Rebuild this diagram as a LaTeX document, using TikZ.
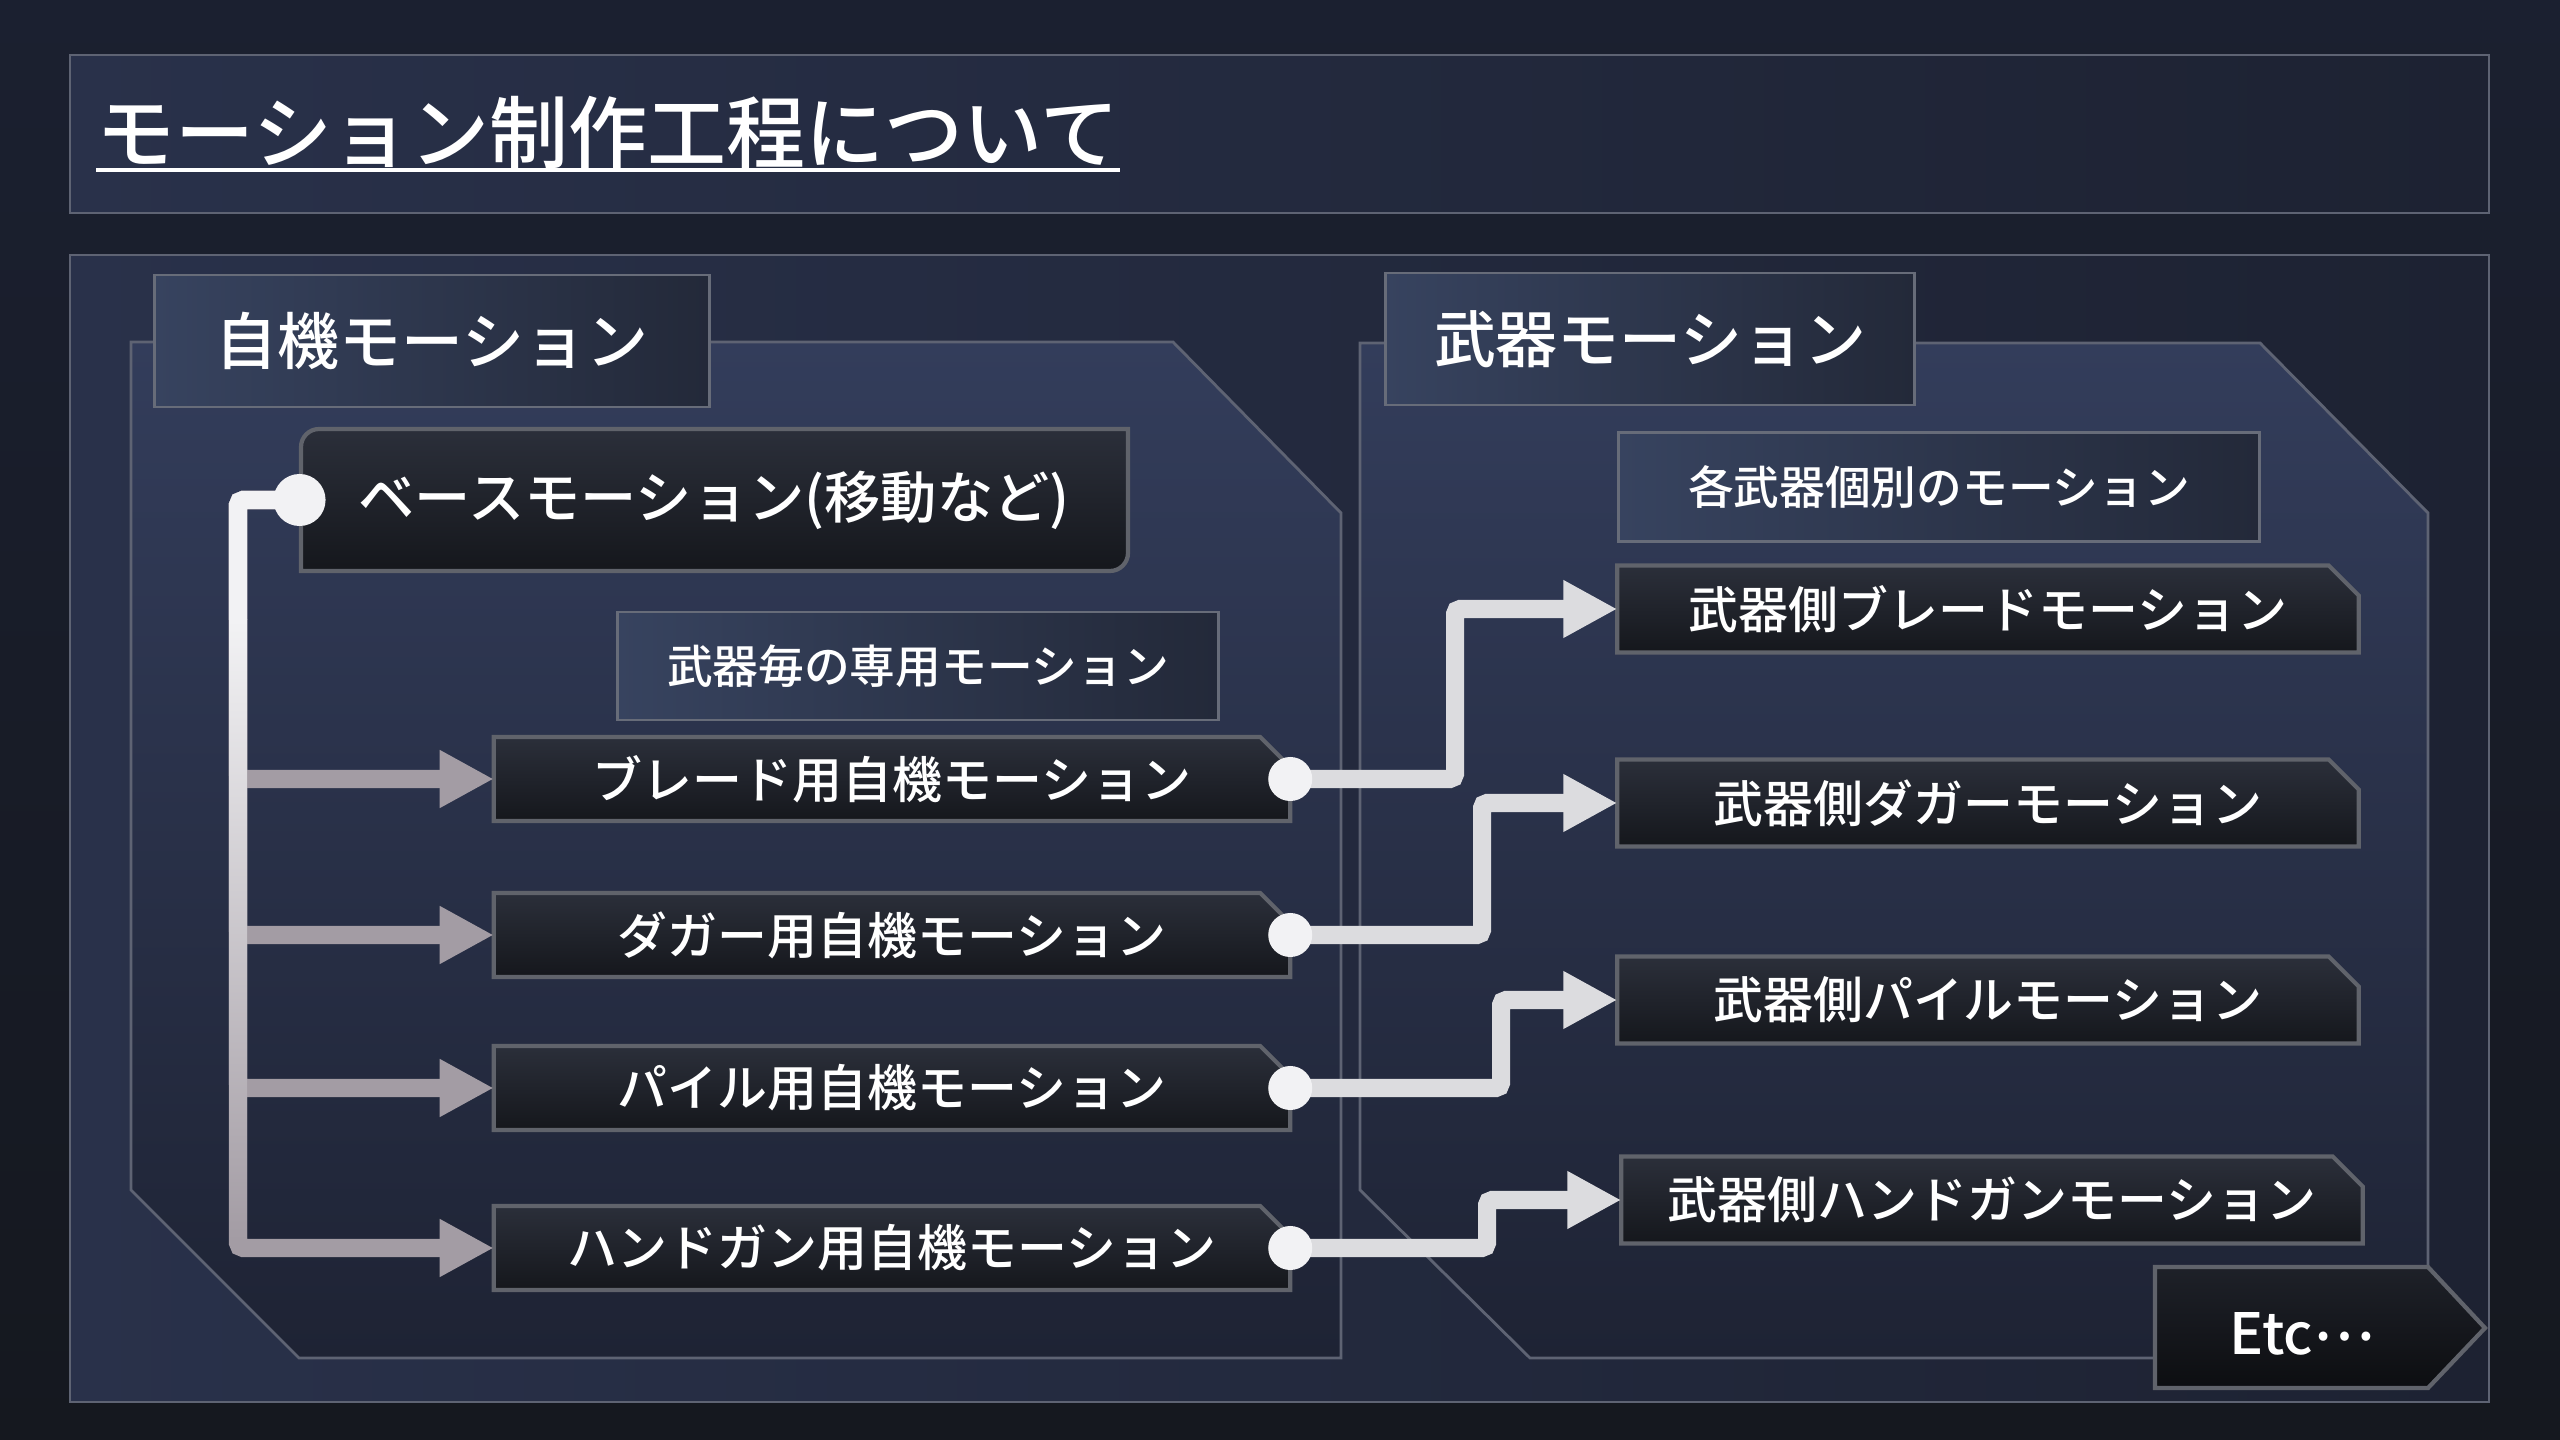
\documentclass[tikz,border=0pt]{standalone}
\usepackage{fontspec}
\setmainfont{Noto Sans CJK JP}[BoldFont={Noto Sans CJK JP Medium}]
\usetikzlibrary{positioning,arrows.meta,shapes.misc}

\definecolor{bgtop}{HTML}{1B2030}
\definecolor{bgbot}{HTML}{15181F}
\definecolor{panelline}{HTML}{5E6373}
\definecolor{panelA}{HTML}{29314A}
\definecolor{panelB}{HTML}{1D2232}
\definecolor{octA}{HTML}{333D5B}
\definecolor{octB}{HTML}{1E2334}
\definecolor{hdrA}{HTML}{37435F}
\definecolor{hdrB}{HTML}{232939}
\definecolor{hdrline}{HTML}{676C79}
\definecolor{boxA}{HTML}{2B2F3A}
\definecolor{boxB}{HTML}{15171C}
\definecolor{boxline}{HTML}{60636B}
\definecolor{branchgrey}{HTML}{A39CA4}
\definecolor{linkgrey}{HTML}{DCDCDF}
\definecolor{dotwhite}{HTML}{F2F2F4}

\tikzset{
  panel/.style={draw=panelline, line width=0.8pt},
  header/.style={draw=hdrline, line width=0.8pt, left color=hdrA, right color=hdrB,
    minimum height=1.32cm, inner sep=0pt, text=white, font=\bfseries\fontsize{17.6}{20}\selectfont},
  subhdr/.style={draw=hdrline, line width=0.8pt, left color=hdrA, right color=hdrB,
    inner sep=0pt, text=white, font=\bfseries\fontsize{13}{15}\selectfont},
  motionbox/.style={chamfered rectangle, chamfered rectangle corners=north east,
    chamfered rectangle xsep=0.15cm, chamfered rectangle ysep=0.15cm,
    draw=boxline, line width=1.2pt, top color=boxA, bottom color=boxB,
    inner sep=0pt, outer sep=0pt, text=white, font=\bfseries\fontsize{14.2}{16}\selectfont},
  selfbox/.style={motionbox, minimum width=7.96cm, minimum height=0.84cm},
  wpnbox/.style={motionbox, minimum width=7.41cm, minimum height=0.87cm},
  dot/.style={circle, fill=dotwhite, inner sep=0pt, minimum size=0.44cm},
  wire/.style={line width=0.18cm, rounded corners=0.05cm},
}

\begin{document}
\begin{tikzpicture}[x=0.01cm, y=-0.01cm, >={Triangle[length=0.54cm, width=0.54cm]}]
  % фон
  \useasboundingbox (0,0) rectangle (2560,1440);
  \shade[top color=bgtop, bottom color=bgbot] (0,0) rectangle (2560,1440);

  % панели
  \draw[panel, left color=panelA, right color=panelB] (70,55) rectangle (2489,213);
  \draw[panel, left color=panelA, right color=panelB] (70,255) rectangle (2489,1402);
  \draw[panel, top color=octA, bottom color=octB]
    (131,342) -- (1173,342) -- (1341,513) -- (1341,1358) -- (299,1358) -- (131,1190) -- cycle;
  \draw[panel, top color=octA, bottom color=octB]
    (1360,343) -- (2260,343) -- (2428,513) -- (2428,1358) -- (1530,1358) -- (1360,1190) -- cycle;

  % заголовок
  \node[anchor=west, inner sep=0pt, text=white, font=\bfseries\fontsize{22.45}{26}\selectfont]
    (title) at (96,133) {モーション制作工程について};
  \draw[white, line width=0.04cm] (title.south west) -- (title.south east);

  \node[header, minimum width=5.54cm] (selfhdr) at (432,341) {自機モーション};
  \node[header, minimum width=5.29cm] (wpnhdr) at (1650,339) {武器モーション};

  % базовая
  \draw[draw=boxline, line width=1.2pt, top color=boxA, bottom color=boxB]
    (301,571) [rounded corners=0.18cm] -- (301,429) [sharp corners] -- (1128,429)
    [rounded corners=0.18cm] -- (1128,571) [sharp corners] -- cycle;
  \node[minimum width=8.27cm, minimum height=1.42cm, inner sep=0pt, text=white,
    font=\bfseries\fontsize{16}{18}\selectfont] (base) at (714,500) {ベースモーション(移動など)};

  \node[subhdr, minimum width=6.01cm, minimum height=1.08cm] (perwpn) at (918,666) {武器毎の専用モーション};
  \node[subhdr, minimum width=6.40cm, minimum height=1.09cm] (eachwpn) at (1939,487) {各武器個別のモーション};

  %自機
  \node[selfbox] (sblade) at (892,779) {ブレード用自機モーション};
  \node[selfbox] (sdagger) at (892,935) {ダガー用自機モーション};
  \node[selfbox] (spile) at (892,1088) {パイル用自機モーション};
  \node[selfbox] (sgun) at (892,1248) {ハンドガン用自機モーション};

  % 武器
  \node[wpnbox] (wblade) at (1988,609) {武器側ブレードモーション};
  \node[wpnbox] (wdagger) at (1988,803) {武器側ダガーモーション};
  \node[wpnbox] (wpile) at (1988,1000) {武器側パイルモーション};
  \node[wpnbox] (wgun) at (1992,1200) {武器側ハンドガンモーション};

  % стрелки слева
  \foreach \t in {sblade,sdagger,spile,sgun}
    \draw[wire, branchgrey, ->] (base.west) -- (238,0 |- base.west) |- (\t.west);
  \draw[wire, dotwhite] (base.west) -- (238,0 |- base.west) -- (238,620);
  \shade[top color=dotwhite, bottom color=branchgrey] (229,620) rectangle (247,1240);

  % стрелки справа
  \draw[wire, linkgrey, ->] (sblade.east) -- (1455,0 |- sblade.east) |- (wblade.west);
  \draw[wire, linkgrey, ->] (sdagger.east) -- (1482,0 |- sdagger.east) |- (wdagger.west);
  \draw[wire, linkgrey, ->] (spile.east) -- (1501,0 |- spile.east) |- (wpile.west);
  \draw[wire, linkgrey, ->] (sgun.east) -- (1487,0 |- sgun.east) |- (wgun.west);

  % точки
  \node[dot, minimum size=0.52cm] (d0) at (base.west) {};
  \foreach \t in {sblade,sdagger,spile,sgun}
    \node[dot] (d\t) at (\t.east) {};

  % Etc
  \draw[draw=boxline, line width=1.2pt, top color=boxA!70!black, bottom color=boxB!60!black]
    (2155,1267) -- (2428,1267) -- (2485,1328) -- (2428,1388) -- (2155,1388) -- cycle;
  \node[inner sep=0pt, text=white, font=\bfseries\fontsize{16.2}{18}\selectfont]
    (etc) at (2302,1334) {Etc\raisebox{0.25em}{…}};
\end{tikzpicture}
\end{document}
